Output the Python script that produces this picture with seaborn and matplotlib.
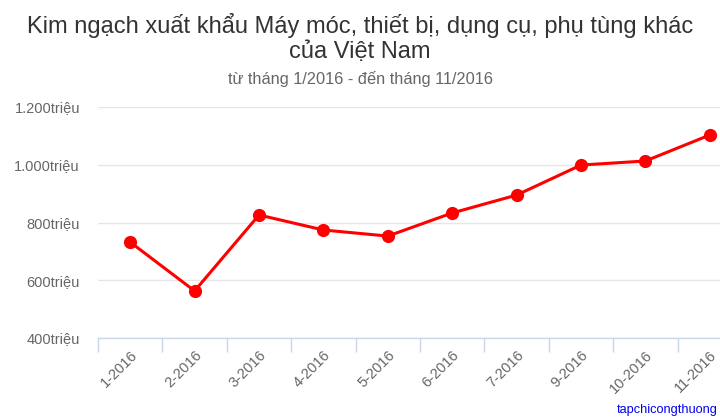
import numpy as np
import pandas as pd
import matplotlib
matplotlib.use("Agg")
import matplotlib.pyplot as plt
from matplotlib.ticker import FuncFormatter, FixedLocator
import seaborn as sns

THANG = ["1-2016", "2-2016", "3-2016", "4-2016", "5-2016",
         "6-2016", "7-2016", "9-2016", "10-2016", "11-2016"]
GIA_TRI = [732, 563, 826, 774, 753, 833, 895, 999, 1013, 1103]
Y_TICKS = [400, 600, 800, 1000, 1200]

TITLE = "Kim ngạch xuất khẩu Máy móc, thiết bị, dụng cụ, phụ tùng khác\ncủa Việt Nam"
SUBTITLE = "từ tháng 1/2016 - đến tháng 11/2016"
CREDIT = "tapchicongthuong"

df = pd.DataFrame({"thang": THANG, "gia_tri": GIA_TRI})

sns.set_theme(style="white")
plt.rcParams["font.family"] = ["Liberation Sans", "DejaVu Sans"]

fig = plt.figure(figsize=(7.2, 4.2), dpi=100)
# plot area runs past the right edge, as in the reference crop
ax = fig.add_axes([98 / 720, 1 - 338 / 420, 644 / 720, 231 / 420])

sns.lineplot(data=df, x="thang", y="gia_tri", sort=False, ax=ax,
             color="#ff0000", linewidth=2.2, marker="o", markersize=9.5,
             markeredgewidth=0, clip_on=False)

ax.set_xlim(-0.5, len(THANG) - 0.5)
ax.set_ylim(400, 1200)
ax.set_yticks(Y_TICKS)


def fmt_trieu(v, pos):
    return f"{int(v):,}".replace(",", ".") + "triệu"


ax.yaxis.set_major_formatter(FuncFormatter(fmt_trieu))
ax.grid(axis="y", color="#e6e6e6", linewidth=1)
ax.set_axisbelow(True)

ax.set_xticks(range(len(THANG)))
ax.set_xticklabels(THANG, rotation=45, ha="right", rotation_mode="anchor")
ax.xaxis.set_minor_locator(FixedLocator(np.arange(-0.5, len(THANG), 1.0)))
ax.tick_params(axis="x", which="major", bottom=True, length=0, pad=7,
               labelsize=10.5, labelcolor="#666666")
ax.tick_params(axis="x", which="minor", bottom=True, length=10,
               color="#ccd6eb", width=1)
ax.tick_params(axis="y", length=0, pad=13, labelsize=10.5, labelcolor="#666666")

for s in ["top", "right", "left"]:
    ax.spines[s].set_visible(False)
ax.spines["bottom"].set_color("#ccd6eb")
ax.spines["bottom"].set_linewidth(1)
ax.set_xlabel("")
ax.set_ylabel("")

fig.text(0.5, 1 - 38 / 420, TITLE, ha="center", va="center", fontsize=17,
         color="#333333", linespacing=1.2)
fig.text(0.5, 1 - 79 / 420, SUBTITLE, ha="center", va="center", fontsize=11.8,
         color="#666666")
fig.text(718 / 720, 1 - 410 / 420, CREDIT, ha="right", va="center", fontsize=9.2,
         color="#0000ee")

fig.savefig("out.png", dpi=100)
